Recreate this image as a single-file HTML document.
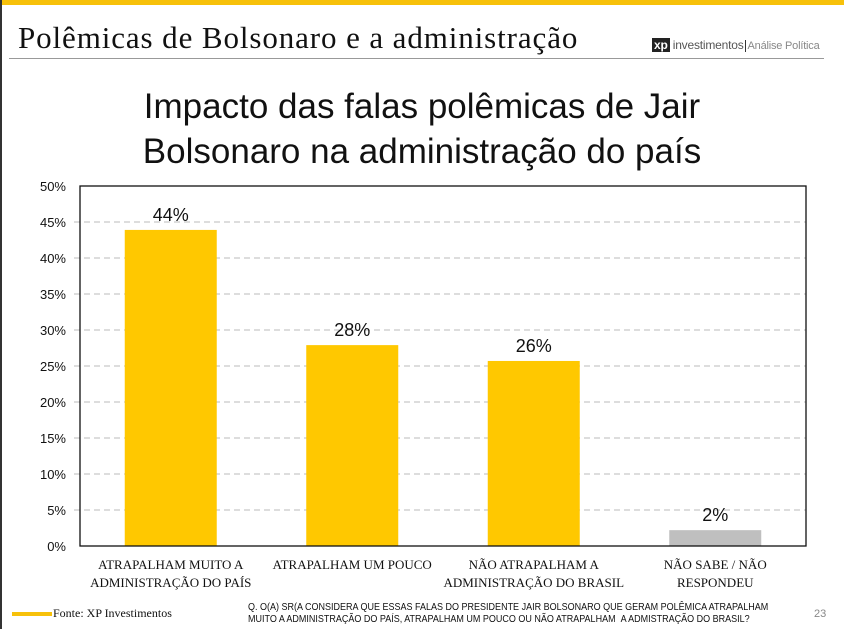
<!DOCTYPE html>
<html><head><meta charset="utf-8"><style>
body{margin:0;width:844px;height:629px;background:#fff;position:relative;overflow:hidden;font-family:"Liberation Serif",serif}
.abs{position:absolute}
</style></head><body>
<div class="abs" style="left:0;top:0;width:844px;height:5px;background:#f7c10a"></div>
<div class="abs" style="left:0;top:0;width:2px;height:629px;background:#333"></div>
<div class="abs" style="left:18px;top:20px;font-size:31px;letter-spacing:0.9px;color:#111">Polêmicas de Bolsonaro e a administração</div>
<div class="abs" style="left:652px;top:38px;font-family:'Liberation Sans',sans-serif;font-size:12px;color:#555;white-space:nowrap;letter-spacing:-0.2px"><span style="background:#222;color:#fff;font-weight:bold;padding:0 2px">xp</span> investimentos<span style="border-left:1px solid #333;margin-left:1px;padding-left:2px;font-size:11px;color:#888">Análise Política</span></div>
<div class="abs" style="left:9px;top:58px;width:815px;height:1px;background:#999"></div>
<div class="abs" style="left:0;top:84px;width:844px;text-align:center;font-family:'Liberation Sans',sans-serif;font-size:35px;line-height:45px;color:#111">Impacto das falas polêmicas de Jair<br>Bolsonaro na administração do país</div>
<svg class="abs" style="left:0;top:0" width="844" height="629">
<g id="g"></g>
</svg>
<div class="abs" style="left:12px;top:612px;width:40px;height:4px;background:#f7c10a"></div>
<div class="abs" style="left:53px;top:606px;font-size:12px;color:#111">Fonte: XP Investimentos</div>
<div class="abs" style="left:248px;top:602px;font-family:'Liberation Sans',sans-serif;font-size:10px;line-height:12px;color:#111;white-space:nowrap;transform:scaleX(0.9);transform-origin:left">Q. O(A) SR(A CONSIDERA QUE ESSAS FALAS DO PRESIDENTE JAIR BOLSONARO QUE GERAM POLÊMICA ATRAPALHAM<br>MUITO A ADMINISTRAÇÃO DO PAÍS, ATRAPALHAM UM POUCO OU NÃO ATRAPALHAM &nbsp;A ADMISTRAÇÃO DO BRASIL?</div>
<div class="abs" style="left:814px;top:608px;font-family:'Liberation Sans',sans-serif;font-size:11px;color:#888">23</div>
<script>
const categories=[["ATRAPALHAM MUITO A","ADMINISTRAÇÃO DO PAÍS"],["ATRAPALHAM UM POUCO"],["NÃO ATRAPALHAM A","ADMINISTRAÇÃO DO BRASIL"],["NÃO SABE / NÃO","RESPONDEU"]];
const values=[43.9,27.9,25.7,2.2];
const valueLabels=["44%","28%","26%","2%"];
const barColors=["#ffc800","#ffc800","#ffc800","#bfbfbf"];
const yTicks=[0,5,10,15,20,25,30,35,40,45,50];
const NS="http://www.w3.org/2000/svg",g=document.getElementById('g');
const L=80,R=806,T=186,B=546,ymax=50;
const y=v=>B-(v/ymax)*(B-T);
const bw=(R-L)/categories.length;
const x=i=>L+bw*(i+0.5);
function mk(t,a){const e=document.createElementNS(NS,t);for(const k in a)e.setAttribute(k,a[k]);g.appendChild(e);return e;}
yTicks.forEach(v=>{
 if(v>0&&v<ymax){const l=mk('line',{x1:74,x2:R,y1:y(v),y2:y(v),stroke:'#bbb','stroke-dasharray':'6,4'});
 
 }
 const t=mk('text',{x:66,y:y(v)+5,'text-anchor':'end','font-size':13,'font-family':'Liberation Sans, sans-serif',fill:'#111'});t.textContent=v+'%';
 
 
});
values.forEach((v,i)=>{
 const r=mk('rect',{x:x(i)-46,y:y(v),width:92,height:B-y(v),fill:barColors[i]});
 
 
 const t=mk('text',{x:x(i),y:y(v)-9,'text-anchor':'middle','font-size':18,'font-family':'Liberation Sans, sans-serif',fill:'#111'});t.textContent=valueLabels[i];
 
 
 categories[i].forEach((s,j)=>{const c=mk('text',{x:x(i),y:569+j*18,'text-anchor':'middle','font-size':13,'font-family':'Liberation Serif, serif',fill:'#111'});c.textContent=s;
 
 });
});
const f=mk('rect',{x:L,y:T,width:R-L,height:B-T,fill:'none',stroke:'#111','stroke-width':1.3});


</script>
</body></html>
